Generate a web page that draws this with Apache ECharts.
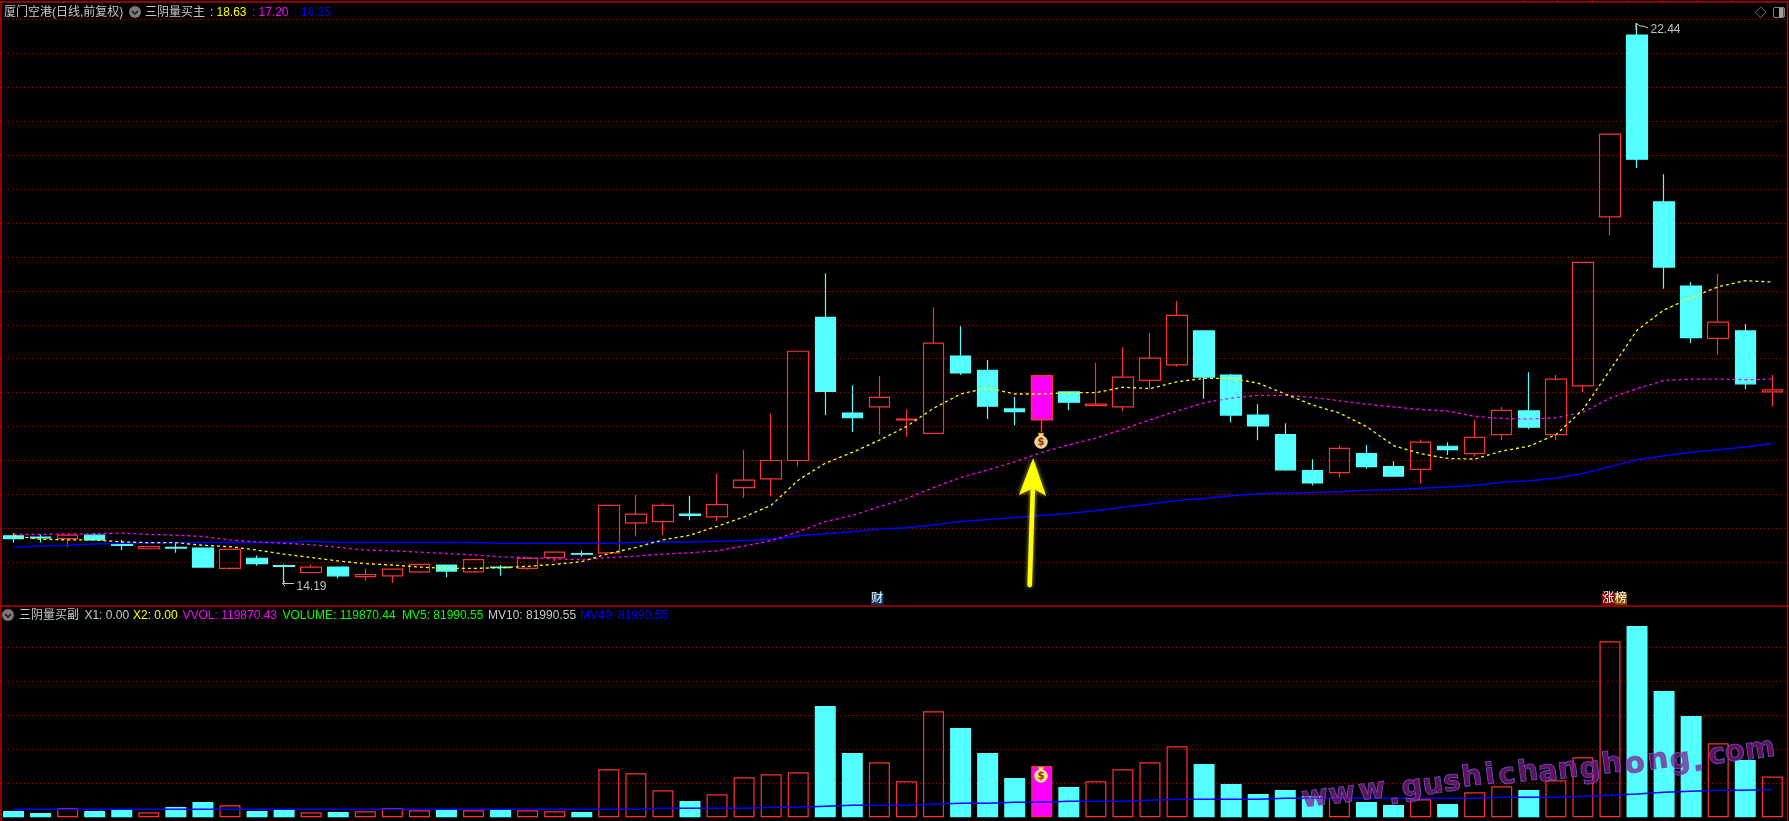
<!DOCTYPE html>
<html>
<head>
<meta charset="utf-8">
<style>html,body{margin:0;padding:0;background:#000;}#c{width:1789px;height:821px;}</style>
<script src="https://cdn.jsdelivr.net/npm/echarts@6/dist/echarts.min.js"></script>
</head>
<body>
<div id="c"></div>
<script>
// [open, close, low, high]
const candles = [
[14.89,14.85,14.79,14.93],[14.87,14.86,14.79,14.91],[14.85,14.90,14.72,14.91],[14.90,14.83,14.82,14.93],
[14.77,14.75,14.68,14.83],[14.70,14.73,14.69,14.74],[14.72,14.71,14.64,14.79],[14.71,14.43,14.42,14.71],
[14.41,14.69,14.39,14.69],[14.56,14.48,14.45,14.60],[14.45,14.44,14.19,14.47],[14.35,14.43,14.35,14.47],
[14.43,14.30,14.26,14.43],[14.29,14.32,14.23,14.41],[14.30,14.40,14.20,14.40],[14.36,14.47,14.34,14.47],
[14.46,14.37,14.28,14.46],[14.36,14.54,14.35,14.54],[14.43,14.42,14.30,14.46],[14.41,14.56,14.39,14.58],
[14.57,14.65,14.51,14.65],[14.63,14.62,14.58,14.67],[14.64,15.34,14.64,15.34],[15.08,15.21,14.88,15.49],
[15.10,15.34,14.90,15.37],[15.21,15.19,15.12,15.48],[15.17,15.35,15.11,15.81],[15.60,15.71,15.45,16.15],
[15.73,16.00,15.47,16.69],[16.00,17.61,15.91,17.61],[18.11,17.02,16.67,18.76],[16.70,16.63,16.42,17.11],
[16.79,16.93,16.38,17.25],[16.60,16.61,16.35,16.75],[16.40,17.73,16.40,18.26],[17.54,17.29,17.26,17.98],
[17.33,16.80,16.61,17.48],[16.76,16.72,16.52,16.94],[16.60,17.25,16.42,17.26],[17.01,16.86,16.74,17.02],
[16.81,16.83,16.81,17.44],[16.79,17.23,16.73,17.67],[17.18,17.51,17.05,17.88],[17.41,18.14,17.38,18.35],
[17.91,17.23,16.91,17.91],[17.26,16.67,16.56,17.28],[16.67,16.51,16.30,16.83],[16.38,15.86,15.85,16.55],
[15.85,15.67,15.63,16.02],[15.82,16.18,15.75,16.22],[16.10,15.91,15.88,16.23],[15.91,15.77,15.76,15.99],
[15.87,16.27,15.66,16.31],[16.21,16.16,16.08,16.27],[16.10,16.34,16.06,16.60],[16.38,16.74,16.30,16.79],
[16.73,16.49,16.46,17.30],[16.38,17.20,16.30,17.26],[17.10,18.92,17.01,18.92],[19.59,20.81,19.32,20.81],
[22.27,20.44,20.31,22.44],[19.81,18.85,18.53,20.22],[18.57,17.81,17.73,18.63],[17.80,18.04,17.56,18.75],
[17.91,17.13,17.05,18.01],[17.01,17.04,16.80,17.26]
];
const maYellow = [
14.89,14.84,14.83,14.83,14.80,14.79,14.79,14.75,14.73,14.68,14.62,14.57,14.52,14.48,14.46,14.43,14.41,14.41,14.42,14.44,14.47,14.51,
14.63,14.72,14.83,14.90,15.03,15.17,15.34,15.71,15.96,16.12,16.30,16.50,16.77,16.98,17.07,16.98,16.98,17.00,17.00,17.08,17.06,17.16,
17.21,17.21,17.14,16.98,16.82,16.70,16.50,16.22,16.10,16.03,16.02,16.14,16.21,16.38,16.75,17.33,17.92,18.22,18.40,18.56,18.65,18.63
];
const maMagenta = [
14.91,14.91,14.92,14.92,14.93,14.91,14.90,14.88,14.83,14.80,14.78,14.76,14.72,14.68,14.67,14.65,14.63,14.61,14.58,14.57,14.55,14.54,
14.57,14.59,14.62,14.64,14.67,14.74,14.82,14.95,15.10,15.19,15.32,15.44,15.60,15.75,15.86,15.98,16.12,16.23,16.33,16.46,16.60,16.73,
16.85,16.92,16.96,16.96,16.93,16.88,16.83,16.79,16.75,16.73,16.65,16.62,16.61,16.63,16.71,16.92,17.06,17.18,17.20,17.20,17.19,17.20
];
const maBlue = [
14.72,14.74,14.75,14.77,14.78,14.78,14.79,14.79,14.79,14.79,14.79,14.81,14.79,14.79,14.79,14.79,14.79,14.79,14.78,14.78,14.78,14.78,
14.78,14.79,14.80,14.80,14.81,14.82,14.84,14.89,14.92,14.95,14.99,15.01,15.05,15.10,15.13,15.16,15.19,15.22,15.26,15.31,15.36,15.41,
15.44,15.48,15.51,15.52,15.53,15.54,15.56,15.57,15.59,15.61,15.63,15.68,15.70,15.74,15.81,15.91,16.01,16.07,16.12,16.16,16.20,16.25
];
const volumes = [
18530,12650,27350,18530,21470,14610,30300,45000,35200,18530,21470,14610,15590,17550,27350,20490,21470,20490,21470,20490,17550,15590,
141080,129310,79310,47940,67550,117550,126370,132260,327350,189120,161670,105780,311660,262650,189120,115590,150880,89120,105780,141080,161670,208730,
156770,97940,68530,80290,62650,58730,45000,36180,52840,39120,73430,91080,80290,108720,176370,517550,562650,371550,297940,217550,168530,119870
];
const mv40 = [
23430,23430,23430,23430,23430,23430,23430,23430,23430,23430,23430,23430,23430,23430,23430,23430,23430,23430,23430,23430,23430,23430,
23430,23430,26370,26370,26370,26370,29310,29310,32260,35200,35200,35200,38140,41080,41080,44020,44020,46960,46960,46960,49900,52840,
52840,52840,52840,55780,55780,55780,55780,55780,55780,55780,55780,58730,58730,58730,61670,64610,68530,73430,76370,79310,79310,81990
];
const categories = candles.map((_, i) => String(i + 1));
const signalIndex = 38;
const stockName = '厦门空港(日线,前复权)';
const mainIndicator = '三阴量买主';
const subIndicator = '三阴量买副';

const RED = '#ff3232', CYAN = '#54ffff', GRID = '#a80000', FRAME = '#c00000';
const FONT = '"Liberation Sans","Noto Sans CJK SC",sans-serif';
const fmt2 = v => v.toFixed(2);
const last = a => a[a.length - 1];

function txt(x, y, text, fill, extra) {
  return {type:'text', silent:true, z:50, x:x, y:y + 1,
    style:Object.assign({text:text, fill:fill, font:'12px ' + FONT, verticalAlign:'middle', align:'left'}, extra||{})};
}
function line(x1,y1,x2,y2,stroke,w){
  return {type:'line', silent:true, z:40, shape:{x1:x1,y1:y1,x2:x2,y2:y2}, style:{stroke:stroke, lineWidth:w||1}};
}
function chevron(x,y){
  return [
    {type:'circle', silent:true, z:50, shape:{cx:x,cy:y,r:6}, style:{fill:'#7a7a7a'}},
    {type:'polyline', silent:true, z:51, shape:{points:[[x-3,y-1],[x,y+2],[x+3,y-1]]}, style:{stroke:'#111', lineWidth:1.4, fill:null}}
  ];
}
function bag(x,y,fill){
  return [
    {type:'polygon', silent:true, z:60, shape:{points:[[x-3,y-9],[x+3,y-9],[x+1.5,y-5],[x-1.5,y-5]]}, style:{fill:fill, stroke:'#a8701c', lineWidth:.6}},
    {type:'circle', silent:true, z:60, shape:{cx:x,cy:y,r:6.2}, style:{fill:fill, stroke:'#fff3c0', lineWidth:1}},
    {type:'text', silent:true, z:61, x:x, y:y+.5, style:{text:'$', fill:'#8b2f20', font:'bold 10px "DejaVu Sans"', align:'center', verticalAlign:'middle'}}
  ];
}

const wmChars = 'www.gushichanghong.com'.split('');
const wmX = [1315,1342,1372,1394,1412,1433,1452,1472,1490,1507,1528,1548,1568,1590,1612,1635,1658,1680,1698,1717,1735,1760];
const wmY = [798,795,791,796,788,786,783,778,776,776,773,773,770,770,765,765,761,761,763,756,753,750];
const watermark = wmChars.map((c,i)=>({type:'text', silent:true, z:30, x:wmX[i], y:wmY[i], rotation:0.13,
  style:{text:c, font:'bold 29px "DejaVu Sans"', fill:'rgba(130,25,130,0.72)', stroke:'rgba(105,115,235,0.85)', lineWidth:1, align:'center', verticalAlign:'middle'}}));

const graphics = [].concat(
  // frame
  line(0,2,1789,2,FRAME,1.5), line(0,606,1789,606,FRAME,1.5), line(1,2,1,821,FRAME,1.5), line(1787.5,2,1787.5,821,FRAME,1.5),
  [1524,1557.5,1592.5,1627.5,1662.5,1697,1732,1767].map(x=>line(x,0,x,2,FRAME,1)),
  // main header
  txt(4,12,stockName,'#c8c8c8'), chevron(135,12), txt(145,12,mainIndicator,'#c8c8c8'),
  txt(210,12,':','#ffff00'), txt(216.5,12,fmt2(last(maYellow)),'#ffff00'),
  txt(252,12,':','#ff00ff'), txt(258.5,12,fmt2(last(maMagenta)),'#ff00ff'),
  txt(294,12,':','#0000ff'), txt(301,12,fmt2(last(maBlue)),'#0000ff'),
  // sub header
  chevron(8,615), txt(19,615,subIndicator,'#c8c8c8'),
  txt(84.4,615,'X1: 0.00','#c8c8c8'), txt(133,615,'X2: 0.00','#ffff00'),
  txt(182.5,615,'VVOL: 119870.43','#ff00ff'), txt(282.4,615,'VOLUME: '+'119870.44','#00ff00'),
  txt(402,615,'MV5: 81990.55','#00ff00'), txt(488,615,'MV10: 81990.55','#c8c8c8'), txt(580,615,'MV40: 81990.55','#0000ff'),
  // top-right icons
  {type:'polygon', silent:true, z:50, shape:{points:[[1760.7,7],[1766,12.3],[1760.7,17.6],[1755.4,12.3]]}, style:{fill:null, stroke:'#707070', lineWidth:1}},
  {type:'rect', silent:true, z:50, shape:{x:1773.5,y:7.5,width:11,height:10,r:1.5}, style:{fill:null, stroke:'#808080', lineWidth:1}},
  {type:'rect', silent:true, z:50, shape:{x:1779,y:8,width:4.5,height:9}, style:{fill:'#a0a0a0'}},
  // high / low labels
  line(1636,23,1636,30,'#c8c8c8',1),
  {type:'polyline', silent:true, z:40, shape:{points:[[1636,23],[1640,26],[1643,26],[1648,28]]}, style:{stroke:'#c8c8c8', lineWidth:1, fill:null}},
  txt(1650.5,28.5,'22.44','#c0c0c0'),
  {type:'polyline', silent:true, z:40, shape:{points:[[285,581],[282.5,583.5],[294,583.5]]}, style:{stroke:'#c8c8c8', lineWidth:1, fill:null}},
  line(282.5,583.5,285,586,'#c8c8c8',1),
  txt(296.5,585.5,'14.19','#c0c0c0'),
  // tags
  {type:'rect', silent:true, z:50, shape:{x:871,y:592.5,width:12.6,height:12.3}, style:{fill:'#063a6e'}},
  txt(871.3,597.8,'财','#ffffff'),
  {type:'rect', silent:true, z:50, shape:{x:1602,y:592.5,width:12.5,height:12.3}, style:{fill:'#7c0808'}},
  {type:'rect', silent:true, z:50, shape:{x:1614.5,y:592.5,width:12.5,height:12.3}, style:{fill:'#8a5208'}},
  txt(1602.3,597.8,'涨','#ffffff'), txt(1614.8,597.8,'榜','#ffffff'),
  // signal marks
  bag(1041,442,'#f3cf78'), bag(1041,776,'#ffe060'),
  // annotation arrow
  {type:'polyline', silent:true, z:70, shape:{points:[[1029.7,585],[1032.8,490]]}, style:{stroke:'#ffff00', lineWidth:4.6, lineCap:'round', shadowBlur:4, shadowColor:'rgba(255,255,120,.7)', fill:null}},
  {type:'polygon', silent:true, z:70, shape:{points:[[1033.1,458.3],[1046.1,496],[1033,488.3],[1019,495]]}, style:{fill:'#ffff00', shadowBlur:5, shadowColor:'rgba(255,255,120,.7)'}},
  watermark
);

const candleItems = candles.map((v,i)=> i===signalIndex
  ? {value:v, itemStyle:{color:'#ff00ff', color0:'#ff00ff', borderColor:RED, borderColor0:RED, borderWidth:1.5}}
  : v);
const volItems = volumes.map((v,i)=>{
  const up = candles[i][1] >= candles[i][0];
  const style = i===signalIndex ? {color:'#ff00ff', borderColor:RED, borderWidth:1.2}
    : up ? {color:'transparent', borderColor:RED, borderWidth:1.2}
         : {color:CYAN, borderColor:CYAN, borderWidth:0};
  return {value:v, itemStyle:style};
});
const lineSeries = (name,data,color,type,width,xi,yi)=>({name, type:'line', data, xAxisIndex:xi||0, yAxisIndex:yi||0,
  showSymbol:false, symbol:'none', smooth:false, clip:false, silent:true, z:5,
  lineStyle:{color, width, type}});

const axisY = (gi,min,max,interval,extra)=>Object.assign({type:'value', gridIndex:gi, min, max, interval,
  axisLabel:{show:false}, axisTick:{show:false}, axisLine:{show:false},
  splitLine:{show:true, lineStyle:{color:GRID, type:[1,3], width:1}}}, extra||{});

const chart = echarts.init(document.getElementById('c'), null, {renderer:'canvas', width:1789, height:821});
chart.setOption({
  animation:false,
  backgroundColor:'#000',
  grid:[
    {left:-1.34, width:1787.2, top:19.4, height:542.9, containLabel:false},
    {left:-1.34, width:1787.2, top:647.3, height:170, containLabel:false}
  ],
  xAxis:[
    {type:'category', gridIndex:0, data:categories, boundaryGap:true, show:false},
    {type:'category', gridIndex:1, data:categories, boundaryGap:true, show:false}
  ],
  yAxis:[
    axisY(0,14.5,22.5,0.5),
    axisY(1,0,500000,100000,{splitLine:{show:true, showMinLine:false, lineStyle:{color:GRID, type:[1,3], width:1}}})
  ],
  series:[
    {name:'K', type:'candlestick', data:candleItems, xAxisIndex:0, yAxisIndex:0, barWidth:21, clip:false, silent:true, z:3,
      itemStyle:{color:'transparent', color0:CYAN, borderColor:RED, borderColor0:CYAN, borderWidth:1.2}},
    lineSeries('MA1',maBlue,'#0000ff','solid',1.5),
    lineSeries('MA2',maMagenta,'#ff00ff',[3,3],1.3),
    lineSeries('MA3',maYellow,'#ffff00',[3,3],1.3),
    {name:'VOL', type:'bar', data:volItems, xAxisIndex:1, yAxisIndex:1, barWidth:21, clip:false, silent:true, z:3},
    lineSeries('MV40',mv40,'#0000ff','solid',1.5,1,1)
  ],
  graphic:graphics
});
</script>
</body>
</html>
